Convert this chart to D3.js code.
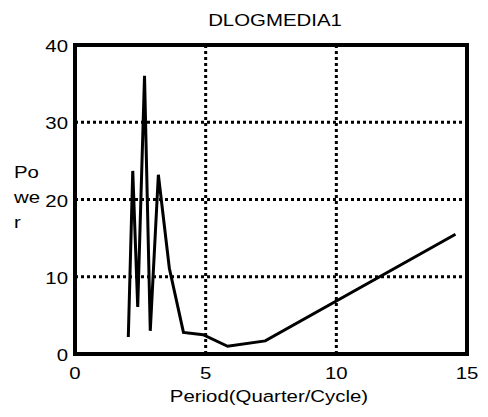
<!DOCTYPE html>
<html lang="en">
<head>
    <meta charset="UTF-8">
    <title>DLOGMEDIA1</title>
    <script src="https://cdnjs.cloudflare.com/ajax/libs/d3/7.8.5/d3.min.js"></script>
    <style>
        body { margin: 0; background: #fff; }
        svg { display: block; font-family: "Liberation Sans", Arial, sans-serif; }
    </style>
</head>
<body>
    <svg id="chart" width="488" height="417"></svg>
    <script>
        // Periods (quarters per cycle) and spectral power
        const periods = [2.04, 2.21, 2.40, 2.66, 2.88, 3.19, 3.61, 4.15, 4.90, 5.84, 7.28, 14.56];
        const power = [2.2, 23.7, 6.1, 36.0, 3.0, 23.2, 11.1, 2.8, 2.5, 1.0, 1.7, 15.5];
        const xTicks = [0, 5, 10, 15];
        const yTicks = [0, 10, 20, 30, 40];

        const svg = d3.select("#chart");
        const m = { left: 75, right: 21, top: 45, bottom: 63 };
        const w = 488 - m.left - m.right;
        const h = 417 - m.top - m.bottom;

        const x = d3.scaleLinear().domain([0, 15]).range([0, w]);
        const y = d3.scaleLinear().domain([0, 40]).range([h, 0]);

        const FS = 17;
        const SX = 1.2; // the original font is drawn a bit wide

        // text helper: wide-ish text placed at (tx, ty)
        function label(parent, tx, ty, str, anchor) {
            return parent.append("text")
                .attr("transform", `translate(${tx},${ty}) scale(${SX},1)`)
                .attr("text-anchor", anchor || "start")
                .attr("font-size", FS)
                .text(str);
        }

        const g = svg.append("g").attr("transform", `translate(${m.left},${m.top})`);

        // dotted grid
        g.selectAll(".vgrid").data(xTicks.slice(1, -1)).enter().append("line")
            .attr("x1", d => x(d)).attr("x2", d => x(d))
            .attr("y1", 0).attr("y2", h)
            .attr("stroke", "#000").attr("stroke-width", 3).attr("stroke-dasharray", "3,3");
        g.selectAll(".hgrid").data(yTicks.slice(1, -1)).enter().append("line")
            .attr("y1", d => y(d)).attr("y2", d => y(d))
            .attr("x1", 0).attr("x2", w)
            .attr("stroke", "#000").attr("stroke-width", 3).attr("stroke-dasharray", "3,3");

        // series
        const pts = periods.map((p, i) => [p, power[i]]);
        g.append("path")
            .datum(pts)
            .attr("fill", "none")
            .attr("stroke", "#000")
            .attr("stroke-width", 3)
            .attr("d", d3.line().x(d => x(d[0])).y(d => y(d[1])));

        // frame
        g.append("rect")
            .attr("width", w).attr("height", h)
            .attr("fill", "none").attr("stroke", "#000").attr("stroke-width", 4);

        // tick labels
        xTicks.forEach(d => label(g, x(d), h + 25, d, "middle"));
        yTicks.forEach(d => label(g, -7, y(d) + 7, d, "end"));

        // titles
        label(svg, 275, 26, "DLOGMEDIA1", "middle");
        label(svg, 269, 402, "Period(Quarter/Cycle)", "middle");

        ["Po", "we", "r"].forEach((s, i) => label(svg, 14, 178 + i * 25, s));
    </script>
</body>
</html>
